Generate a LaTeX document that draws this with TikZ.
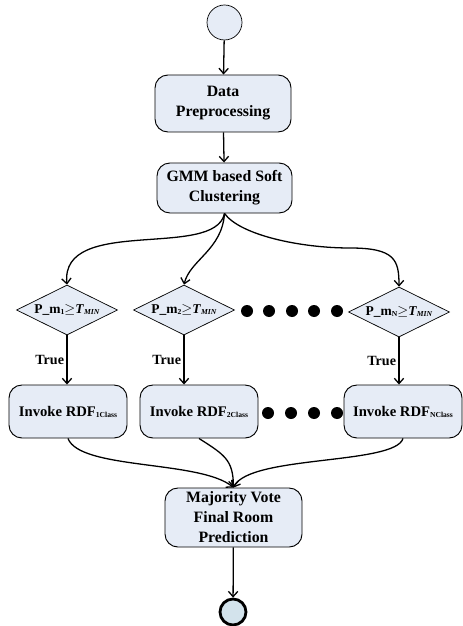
\documentclass[tikz,border=0pt]{standalone}
\usepackage{fontspec}
\setmainfont{Liberation Serif}
\usetikzlibrary{shapes.geometric,arrows.meta}

\definecolor{stagefill}{HTML}{E6ECF6}
\definecolor{endfill}{HTML}{D3E3EC}

\newcommand{\lowtext}[1]{\raisebox{-0.8pt}{\fontsize{6.5}{7}\selectfont #1}}

\tikzset{
  stage/.style={draw, line width=0.8pt, rounded corners=11pt, fill=stagefill,
                align=center, inner sep=2pt,
                font=\bfseries\fontsize{13.5}{17}\selectfont},
  invoke/.style={stage, minimum width=3.54cm, minimum height=1.59cm,
                 font=\bfseries\fontsize{12.5}{14}\selectfont},
  check/.style={draw, line width=0.6pt, diamond, aspect=2, fill=stagefill,
                minimum width=3.03cm, minimum height=1.5cm, inner sep=-3pt,
                font=\bfseries\fontsize{11.5}{13}\selectfont},
  flow/.style={line width=1.1pt, -{Straight Barb[length=4.5pt,width=8pt]}},
  truelabel/.style={left, inner sep=2pt, font=\bfseries\fontsize{12}{13}\selectfont}
}

\begin{document}
\begin{tikzpicture}[x=0.03cm, y=-0.03cm]
  \useasboundingbox (0, 0) rectangle (462, 626);

  % top of the flow
  \node [draw, circle, line width=0.6pt, fill=stagefill, minimum size=1.05cm, inner sep=0pt]
        (start) at (224.5, 22.5) {};
  \node [stage, minimum width=4.08cm, minimum height=1.71cm] (prep) at (223, 103.5)
        {Data\\Preprocessing};
  \node [stage, minimum width=4.05cm, minimum height=1.5cm] (gmm) at (224.5, 188)
        {GMM based Soft\\Clustering};

  % threshold checks
  \node [check] (chk1) at (67, 310)
        {P\_m\lowtext{1}$\geq$\textit{T}\lowtext{\textit{MIN}}};
  \node [check] (chk2) at (184, 310)
        {P\_m\lowtext{2}$\geq$\textit{T}\lowtext{\textit{MIN}}};
  \node [check] (chkN) at (399, 312)
        {P\_m\lowtext{N}$\geq$\textit{T}\lowtext{\textit{MIN}}};

  % per-class forests
  \node [invoke] (rdf1) at (68, 411.5) {Invoke RDF\lowtext{1Class}};
  \node [invoke] (rdf2) at (199, 411.5) {Invoke RDF\lowtext{2Class}};
  \node [invoke] (rdfN) at (403, 411.5) {Invoke RDF\lowtext{NClass}};

  \node [stage, minimum width=4.11cm, minimum height=1.77cm] (vote) at (233.5, 517.5)
        {Majority Vote\\Final Room\\Prediction};
  \node [draw, circle, line width=2.4pt, fill=endfill, minimum size=0.78cm, inner sep=0pt]
        (finish) at (233, 612) {};

  % dots between the columns
  \foreach \x in {247, 269, 292, 314, 337}
    \fill (\x, 311) circle (6);
  \foreach \x in {268, 291, 314, 337}
    \fill (\x, 413) circle (6);

  \draw [flow] (start) -- (prep);
  \draw [flow] (prep) -- (gmm);

  \draw [flow] (gmm.south) .. controls (215, 260) and (60, 215) .. (chk1.north);
  \draw [flow] (gmm.south) .. controls (222, 250) and (190, 260) .. (chk2.north);
  \draw [flow] (gmm.south) .. controls (240, 235) and (300, 248) .. (350, 248)
                           .. controls (395, 248) and (399, 260) .. (chkN.north);

  \draw [flow] (chk1.south) -- node [truelabel] {True} (chk1.south |- rdf1.north);
  \draw [flow] (chk2.south) -- node [truelabel] {True} (chk2.south |- rdf2.north);
  \draw [flow] (chkN.south) -- node [truelabel] {True} (chkN.south |- rdfN.north);

  \draw [flow] (rdf1.south) .. controls (80, 470) and (200, 460) .. (vote.north);
  \draw [flow] (rdf2.south) .. controls (225, 455) and (233, 460) .. (vote.north);
  \draw [flow] (rdfN.south) .. controls (395, 465) and (250, 455) .. (vote.north);

  \draw [flow] (vote) -- (finish);
\end{tikzpicture}
\end{document}
